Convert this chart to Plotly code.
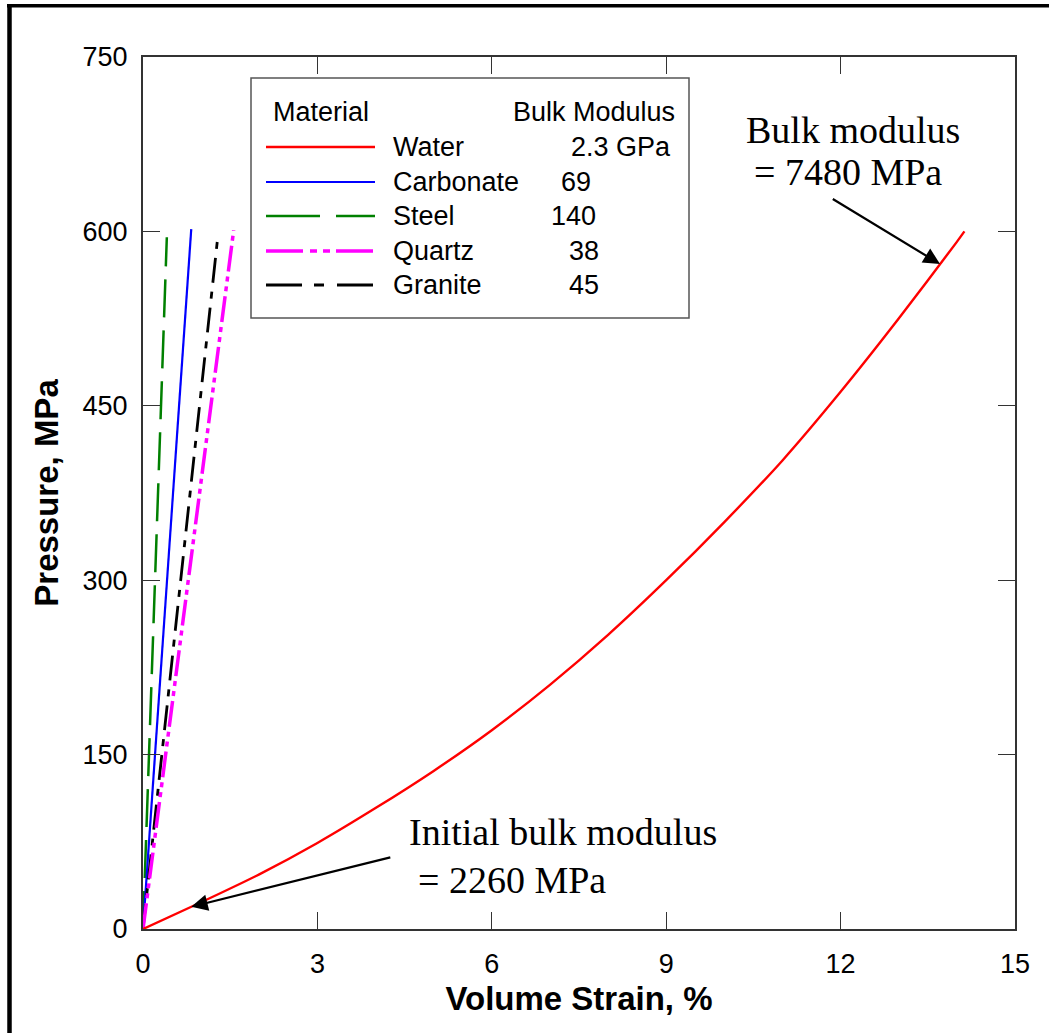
import numpy as np
import plotly.graph_objects as go

# ---------------- data ----------------
water_strain = [0, 1, 2, 3, 4, 5, 6, 7, 8, 9, 10, 11, 12, 13, 14, 14.13]
water_pressure = [0, 23, 47, 74, 104, 136, 171, 210, 253, 300, 350, 403, 462, 525, 591, 600]

carbonate_strain = [0, 0.83]
carbonate_pressure = [0, 602]
steel_strain = [0, 0.41]
steel_pressure = [0, 595]
quartz_strain = [0, 1.56]
quartz_pressure = [0, 601]
granite_strain = [0, 1.29]
granite_pressure = [0, 597]

materials = ["Water", "Carbonate", "Steel", "Quartz", "Granite"]
bulk_moduli = ["2.3 GPa", "69", "140", "38", "45"]

x_ticks = [0, 3, 6, 9, 12, 15]
y_ticks = [0, 150, 300, 450, 600, 750]

# ---------------- layout helpers ----------------
W, H = 1049, 1033
L, R, T, B = 143, 1015, 57, 929


def px(x):
    return (x - L) / (R - L)


def py(y):
    return (B - y) / (B - T)


styles = {
    "Water": dict(color="#ff0000", width=2.4, dash="solid"),
    "Carbonate": dict(color="#0000ff", width=2.2, dash="solid"),
    "Steel": dict(color="#008000", width=2.5, dash="38px,13px"),
    "Quartz": dict(color="#ff00ff", width=3.5, dash="26px,5px,5px,5px,5px,5px"),
    "Granite": dict(color="#000000", width=2.8, dash="25px,9px,7px,9px"),
}
legend_dash = {
    "Water": "solid",
    "Carbonate": "solid",
    "Steel": "54px,16px",
    "Quartz": "37px,7px,7px,6px,7px,6px",
    "Granite": "36px,12px,10px,13px",
}

series = {
    "Water": (water_strain, water_pressure),
    "Carbonate": (carbonate_strain, carbonate_pressure),
    "Steel": (steel_strain, steel_pressure),
    "Quartz": (quartz_strain, quartz_pressure),
    "Granite": (granite_strain, granite_pressure),
}

fig = go.Figure()
for name in ["Steel", "Carbonate", "Granite", "Quartz", "Water"]:
    xs, ys = series[name]
    fig.add_trace(go.Scatter(x=xs, y=ys, mode="lines", name=name,
                             line=dict(shape="spline", smoothing=0.5, **styles[name]),
                             showlegend=False, hoverinfo="x+y+name"))

shapes = []
annotations = []

# outer frame lines (top and left)
shapes.append(dict(type="line", xref="paper", yref="paper",
                   x0=px(7), x1=px(W + 5), y0=py(5.7), y1=py(5.7),
                   line=dict(color="black", width=3.5)))
shapes.append(dict(type="line", xref="paper", yref="paper",
                   x0=px(9.5), x1=px(9.5), y0=py(4), y1=py(H + 5),
                   line=dict(color="black", width=4.5)))

# legend box
shapes.append(dict(type="rect", xref="paper", yref="paper",
                   x0=px(251), x1=px(689), y0=py(78), y1=py(318),
                   line=dict(color="#555555", width=1.5), fillcolor="white", layer="above"))

legend_font = dict(family="Liberation Sans, Arial, sans-serif", size=27, color="black")
annotations.append(dict(text="Material", xref="paper", yref="paper", x=px(271), y=py(112),
                        xanchor="left", yanchor="middle", showarrow=False, font=legend_font))
annotations.append(dict(text="Bulk Modulus", xref="paper", yref="paper", x=px(511), y=py(112),
                        xanchor="left", yanchor="middle", showarrow=False, font=legend_font))

row_y = [147, 182, 216, 251, 285]
val_x = [569, 559, 549, 567, 567]
for i, name in enumerate(materials):
    st = styles[name]
    shapes.append(dict(type="line", xref="paper", yref="paper",
                       x0=px(266), x1=px(375), y0=py(row_y[i]), y1=py(row_y[i]),
                       line=dict(color=st["color"], width=st["width"], dash=legend_dash[name]),
                       layer="above"))
    annotations.append(dict(text=name, xref="paper", yref="paper", x=px(391), y=py(row_y[i]),
                            xanchor="left", yanchor="middle", showarrow=False, font=legend_font))
    annotations.append(dict(text=bulk_moduli[i], xref="paper", yref="paper", x=px(val_x[i]),
                            y=py(row_y[i]), xanchor="left", yanchor="middle", showarrow=False,
                            font=legend_font))

# serif annotations
serif = dict(family="Liberation Serif, Times New Roman, serif", size=38, color="black")
annotations += [
    dict(text="Bulk modulus", xref="paper", yref="paper", x=px(744), y=py(130),
         xanchor="left", yanchor="middle", showarrow=False, font=serif),
    dict(text="= 7480 MPa", xref="paper", yref="paper", x=px(752), y=py(172),
         xanchor="left", yanchor="middle", showarrow=False, font=serif),
    dict(text="Initial bulk modulus", xref="paper", yref="paper", x=px(407), y=py(832),
         xanchor="left", yanchor="middle", showarrow=False, font=serif),
    dict(text="= 2260 MPa", xref="paper", yref="paper", x=px(416), y=py(880),
         xanchor="left", yanchor="middle", showarrow=False, font=serif),
]

# arrows pointing at water curve
tip1_x = 13.71
tip1_y = float(np.interp(tip1_x, water_strain, water_pressure))
tip2_x = 0.83
tip2_y = float(np.interp(tip2_x, water_strain, water_pressure))
annotations.append(dict(x=tip1_x, y=tip1_y, xref="x", yref="y",
                        ax=11.84, ay=628.7, axref="x", ayref="y", text="",
                        showarrow=True, arrowhead=2, arrowsize=1.5, arrowwidth=2.2,
                        arrowcolor="black", standoff=0))
annotations.append(dict(x=tip2_x, y=tip2_y, xref="x", yref="y",
                        ax=4.28, ay=61.9, axref="x", ayref="y", text="",
                        showarrow=True, arrowhead=2, arrowsize=1.5, arrowwidth=2.2,
                        arrowcolor="black", standoff=0))

tick_font = dict(family="Liberation Sans, Arial, sans-serif", size=27, color="black")
title_font = dict(family="Liberation Sans, Arial, sans-serif", size=33, color="black")

fig.update_layout(
    width=W, height=H,
    margin=dict(l=L, r=W - R, t=T, b=H - B, autoexpand=False),
    paper_bgcolor="white", plot_bgcolor="white",
    showlegend=False,
    shapes=shapes, annotations=annotations,
    xaxis=dict(range=[0, 15], tickvals=x_ticks, ticktext=[str(v) for v in x_ticks],
               showgrid=False, zeroline=False, showline=True, linecolor="#333333",
               linewidth=2, mirror="ticks", ticks="inside", ticklen=17, tickwidth=1,
               tickcolor="#333333", tickfont=tick_font, ticklabelstandoff=10,
               title=dict(text="<b>Volume Strain, %</b>", font=title_font, standoff=8)),
    yaxis=dict(range=[0, 750], tickvals=y_ticks, ticktext=[str(v) for v in y_ticks],
               showgrid=False, zeroline=False, showline=True, linecolor="#333333",
               linewidth=2, mirror="ticks", ticks="inside", ticklen=17, tickwidth=1,
               tickcolor="#333333", tickfont=tick_font, ticklabelstandoff=8,
               title=dict(text="<b>Pressure, MPa</b>", font=title_font, standoff=14)),
)

fig.write_html("out.html", config={"displayModeBar": False},
               post_script="document.body.style.margin='0';document.body.style.overflow='hidden';")
